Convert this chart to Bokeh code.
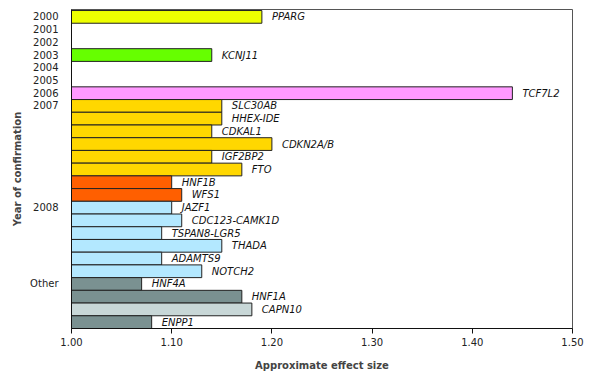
from bokeh.plotting import figure
from bokeh.models import ColumnDataSource, Range1d, FixedTicker, NumeralTickFormatter
from bokeh.core.properties import value
from bokeh.embed import file_html
from bokeh.resources import INLINE

# ---- data ----
genes = ["PPARG", "", "", "KCNJ11", "", "", "TCF7L2",
         "SLC30AB", "HHEX-IDE", "CDKAL1", "CDKN2A/B", "IGF2BP2", "FTO",
         "HNF1B", "WFS1",
         "JAZF1", "CDC123-CAMK1D", "TSPAN8-LGR5", "THADA", "ADAMTS9", "NOTCH2",
         "HNF4A", "HNF1A", "CAPN10", "ENPP1"]
effects = [1.19, None, None, 1.14, None, None, 1.44,
           1.15, 1.15, 1.14, 1.20, 1.14, 1.17,
           1.10, 1.11,
           1.10, 1.11, 1.09, 1.15, 1.09, 1.13,
           1.07, 1.17, 1.18, 1.08]
groups = ["2000", None, None, "2003", None, None, "2006",
          "2007", "2007", "2007", "2007", "2007", "2007",
          "2007b", "2007b",
          "2008", "2008", "2008", "2008", "2008", "2008",
          "Other", "Other", "OtherLight", "Other"]
group_colors = {"2000": "#EEFF00", "2003": "#66FF00", "2006": "#FF99FF",
                "2007": "#FFD700", "2007b": "#FF5F00", "2008": "#B3E8FF",
                "Other": "#7A9191", "OtherLight": "#C8D7D7"}
year_tick_rows = [0, 1, 2, 3, 4, 5, 6, 7, 15, 21]
year_tick_labels = ["2000", "2001", "2002", "2003", "2004", "2005", "2006", "2007", "2008", "Other"]
x_ticks = [1.0, 1.1, 1.2, 1.3, 1.4, 1.5]

rows = [i for i, e in enumerate(effects) if e is not None]
src = ColumnDataSource(dict(
    y=rows,
    right=[effects[i] for i in rows],
    gene=[genes[i] for i in rows],
    color=[group_colors[groups[i]] for i in rows],
))

FONT = "DejaVu Sans"

p = figure(frame_width=501, frame_height=319, output_backend="svg", toolbar_location=None,
           x_range=Range1d(1.0, 1.5), y_range=Range1d(24.5, -0.58),
           min_border_left=71, min_border_right=12, min_border_top=9, min_border_bottom=30)

p.hbar(y="y", left=1.0, right="right", height=1.0, source=src,
       fill_color="color", line_color="#222222", line_width=1)
p.text(x="right", y="y", text="gene", source=src, x_offset=10,
       text_font=value(FONT), text_font_style="italic", text_font_size="10px",
       text_baseline="middle", text_align="left", text_color="#111111")

p.grid.visible = False
p.outline_line_color = "#555555"
p.outline_line_width = 1
p.background_fill_color = "white"
p.border_fill_color = "white"

xa = p.xaxis[0]
xa.ticker = FixedTicker(ticks=x_ticks)
xa.formatter = NumeralTickFormatter(format="0.00")
xa.axis_label = "Approximate effect size"
xa.axis_label_text_font = FONT
xa.axis_label_text_font_style = "bold"
xa.axis_label_text_font_size = "10px"
xa.axis_label_standoff = 11
xa.major_label_text_font = FONT
xa.major_label_text_font_size = "10px"
xa.major_label_text_color = "#222222"
xa.major_label_standoff = 4
xa.major_tick_out = 5
xa.major_tick_in = 0
xa.minor_tick_line_color = None
xa.axis_line_color = "#111111"
xa.major_tick_line_color = "#111111"

ya = p.yaxis[0]
ya.ticker = FixedTicker(ticks=year_tick_rows)
ya.major_label_overrides = {r: l for r, l in zip(year_tick_rows, year_tick_labels)}
ya.axis_label = "Year of confirmation"
ya.axis_label_text_font = FONT
ya.axis_label_text_font_style = "bold"
ya.axis_label_text_font_size = "10px"
ya.axis_label_standoff = 4
ya.major_label_text_font = FONT
ya.major_label_text_font_size = "10px"
ya.major_label_text_color = "#222222"
ya.major_label_standoff = 7
ya.major_tick_line_color = None
ya.minor_tick_line_color = None
ya.axis_line_color = "#111111"

open("out.html", "w").write(file_html(p, INLINE))
